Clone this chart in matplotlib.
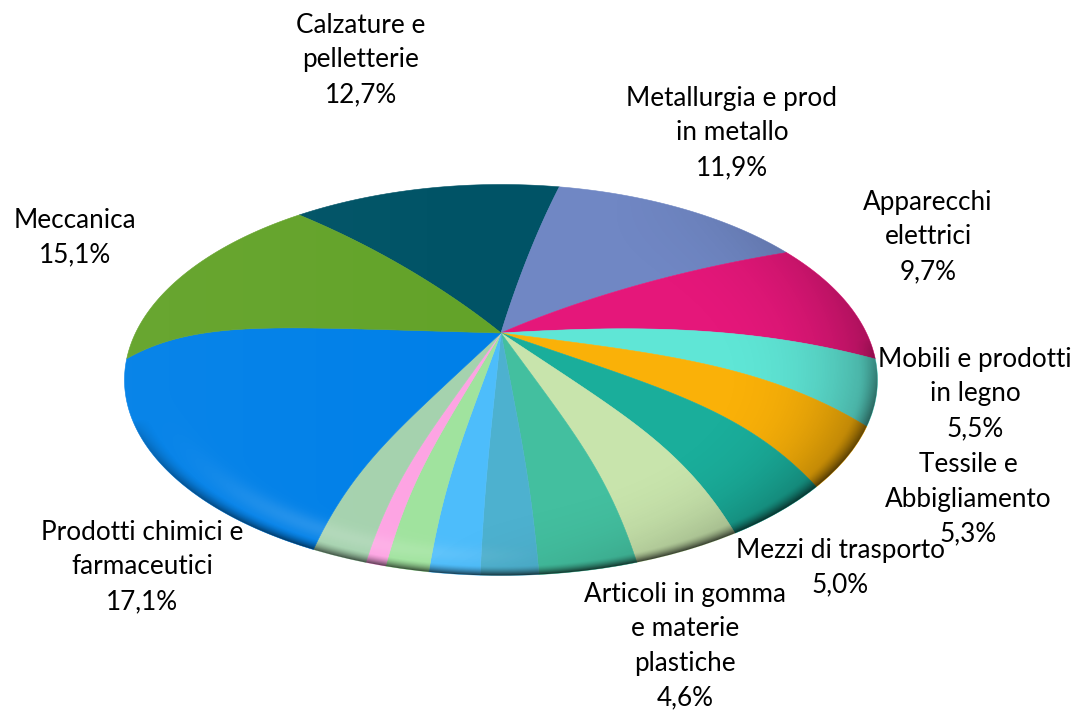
import numpy as np
import matplotlib
matplotlib.use('Agg')
import matplotlib.pyplot as plt
from matplotlib.patches import Ellipse

names = ['Calzature e\npelletterie', 'Metallurgia e prod\nin metallo', 'Apparecchi\nelettrici',
         'Mobili e prodotti\nin legno', 'Tessile e\nAbbigliamento', 'Mezzi di trasporto',
         'Articoli in gomma\ne materie\nplastiche', '', '', '', '', '', '',
         'Prodotti chimici e\nfarmaceutici', 'Meccanica']
values = [12.7, 11.9, 9.7, 5.5, 5.3, 5.0, 4.6, 4.0, 2.3, 2.0, 1.7, 0.8, 2.2, 17.1, 15.1]
colors = ['#005366', '#7087C4', '#E5177A', '#5FE6D6', '#FAB108', '#1AAE9B', '#C8E4AC', '#43BF9F',
          '#4DB1CF', '#4DBDFB', '#A0E39E', '#FDA4E3', '#A5D2AE', '#0080E8', '#63A329']
label_pos = [(361, 60), (732, 133), (928, 237), (975, 394), (968, 499), (840, 568), (685, 646),
             None, None, None, None, None, None, (142, 567), (75, 238)]

# geometry of the dome, in pixels
cx, cy, a, b, dome = 501, 380, 376.5, 195.5, 47
start = 121.2


def rim_angle(phi):
    # the 3d view squeezes the right side a little
    th = phi
    for _ in range(5):
        t = np.radians(th)
        th = phi + 4.3 - 5.2 * np.cos(t - np.radians(175)) + 1.0 * np.cos(2 * (t - np.radians(80)))
    return th


def profile(theta):
    th = (theta + 180) % 360 - 180
    knots = [-180, -120, -33, 9, 42, 122, 180]
    p = np.interp(th, knots, [7, 5.5, 5, 2.4, 1.7, 1.7, 7])
    c = np.interp(th, knots, [0.25, 0.1, 0, 0, 0, 0, 0.25])
    return p, c


def project(r, phi):
    th = rim_angle(phi)
    t = np.radians(th)
    p, c = profile(th)
    h = dome * (1 - r ** p) * (1 - c * r)
    return cx + a * r * np.cos(t), cy - b * r * np.sin(t) - h


fig = plt.figure(figsize=(10.75, 7.1), dpi=100)
ax = fig.add_axes([0, 0, 1, 1])

shares = np.array(values) / sum(values) * 360
edges = start - np.concatenate([[0], np.cumsum(shares)])
rr = np.linspace(0, 1, 80)
for i, col in enumerate(colors):
    arc = np.linspace(edges[i], edges[i + 1], 120)
    x1, y1 = project(rr, np.full_like(rr, edges[i]))
    x2, y2 = project(np.ones_like(arc), arc)
    x3, y3 = project(rr[::-1], np.full_like(rr, edges[i + 1]))
    ax.fill(np.r_[x1, x2, x3], np.r_[y1, y2, y3], color=col, lw=0.4, zorder=2)

# shading over the slices
px, py = np.meshgrid(np.arange(0, 1075) + 0.5, np.arange(0, 710) + 0.5)
u = (px - cx) / a
v = (cy - py) / b
rho = np.hypot(u, v)
ang = np.arctan2(v, u)
low = np.clip(-np.sin(ang - np.radians(12)), 0, 1) ** 0.6
edge = np.clip((rho - 0.95) / 0.05, 0, 1) ** 1.6
dark = 0.7 * edge * low
right = np.clip(np.cos(ang + np.radians(15)), 0, 1) ** 1.5
dark = dark + (1 - dark) * 0.3 * np.clip((rho - 0.5) / 0.5, 0, 1) ** 3 * right
glow = 0.3 * np.exp(-((rho - 0.90) / 0.045) ** 2) * np.clip(-np.sin(ang), 0, 1) ** 3 * np.clip(0.15 - u * 1.2, 0, 1)
glow = glow + 0.04 * np.clip(-u, 0, 1)

clip = Ellipse((cx, cy), 2 * a, 2 * b, transform=ax.transData)
for level, alpha, z in [(1.0, glow, 3), (0.0, dark, 4)]:
    layer = np.dstack([np.full_like(alpha, level), np.full_like(alpha, level), np.full_like(alpha, level), alpha])
    im = ax.imshow(layer, extent=(0, 1075, 710, 0), aspect='auto', zorder=z, interpolation='bilinear')
    im.set_clip_path(clip)

ax.set_xlim(0, 1075)
ax.set_ylim(710, 0)
ax.axis('off')

for name, val, pos in zip(names, values, label_pos):
    if pos is None:
        continue
    txt = name + '\n' + f'{val:.1f}%'.replace('.', ',')
    ax.text(pos[0], pos[1], txt, ha='center', va='center', fontsize=18.8, family='Lato',
            color='black', linespacing=1.47, zorder=5)

fig.savefig('out.png', dpi=100)
